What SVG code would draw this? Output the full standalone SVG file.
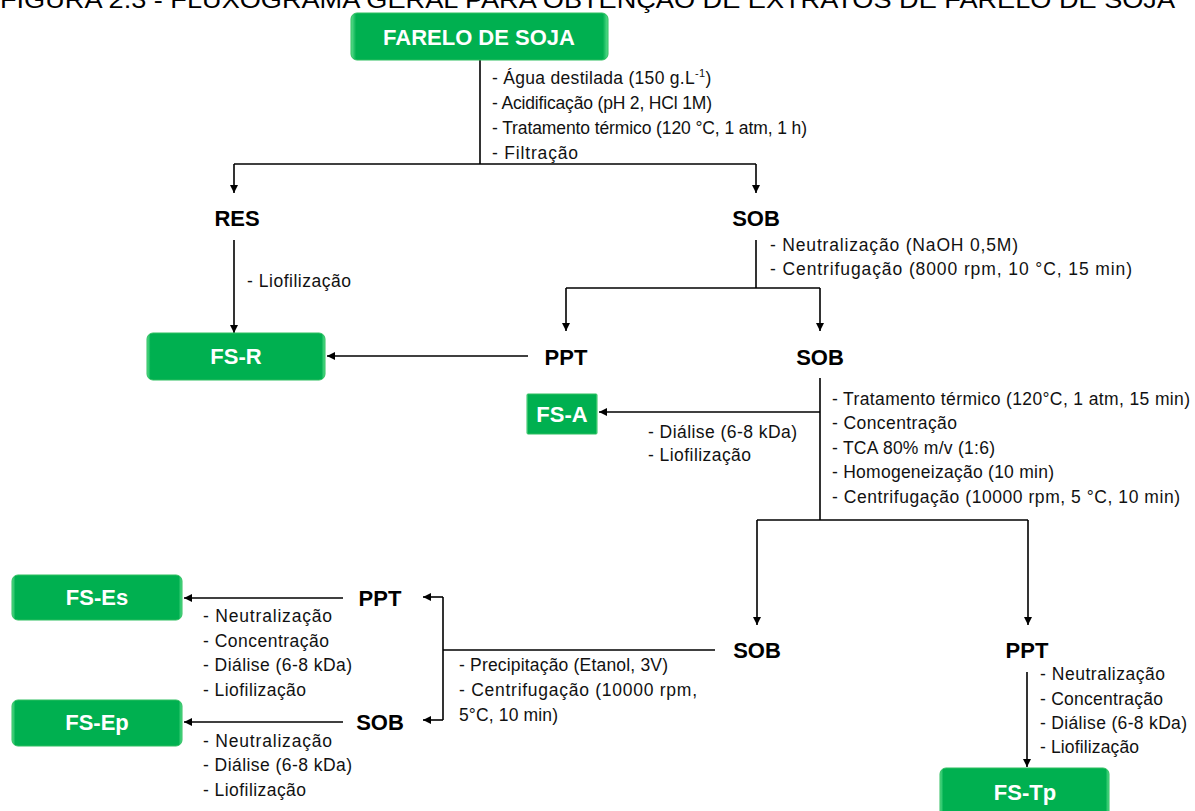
<svg xmlns="http://www.w3.org/2000/svg" width="1195" height="811" viewBox="0 0 1195 811">
<style>
  .t{font-family:"Liberation Sans",Arial,sans-serif;font-size:17.5px;fill:#111}
  .lbl{font-family:"Liberation Sans",Arial,sans-serif;font-size:22px;font-weight:bold;fill:#000;text-anchor:middle}
  .bt{font-family:"Liberation Sans",Arial,sans-serif;font-size:22px;font-weight:bold;fill:#fff;text-anchor:middle}
  .box{fill:url(#g);stroke:#2fbf60;stroke-width:1}
  .ln{fill:none;stroke:#000;stroke-width:1.6}
  .title{font-family:"Liberation Sans",Arial,sans-serif;font-size:24px;fill:#000}
</style>
<defs>
  <linearGradient id="g" x1="0" y1="0" x2="1" y2="0">
    <stop offset="0" stop-color="#5fe08f"/>
    <stop offset="0.02" stop-color="#00b050"/>
    <stop offset="0.98" stop-color="#00b050"/>
    <stop offset="1" stop-color="#5fe08f"/>
  </linearGradient>
  <marker id="a" viewBox="0 0 10 10" refX="10" refY="5" markerWidth="8" markerHeight="8" markerUnits="userSpaceOnUse" orient="auto">
    <path d="M0,0 L10,5 L0,10 z" fill="#000"/>
  </marker>
</defs>
<rect width="1195" height="811" fill="#fff"/>
<text class="title" x="0" y="8" textLength="1175" lengthAdjust="spacingAndGlyphs">FIGURA 2.3 - FLUXOGRAMA GERAL PARA OBTENÇÃO DE EXTRATOS DE FARELO DE SOJA</text>

<g id="connectors">
  <path class="ln" d="M480,60 V164"/>
  <path class="ln" d="M234,164 H756"/>
  <path class="ln" d="M234,164 V193" marker-end="url(#a)"/>
  <path class="ln" d="M756,164 V193" marker-end="url(#a)"/>
  <path class="ln" d="M234,240 V333" marker-end="url(#a)"/>
  <path class="ln" d="M756,240 V288"/>
  <path class="ln" d="M566,288 H820"/>
  <path class="ln" d="M566,288 V331" marker-end="url(#a)"/>
  <path class="ln" d="M820,288 V331" marker-end="url(#a)"/>
  <path class="ln" d="M528,356 H327" marker-end="url(#a)"/>
  <path class="ln" d="M820,378 V520"/>
  <path class="ln" d="M820,412 H599" marker-end="url(#a)"/>
  <path class="ln" d="M757,520 H1028"/>
  <path class="ln" d="M757,520 V625" marker-end="url(#a)"/>
  <path class="ln" d="M1028,520 V625" marker-end="url(#a)"/>
  <path class="ln" d="M715,650 H443"/>
  <path class="ln" d="M443,597 V720"/>
  <path class="ln" d="M443,597 H423" marker-end="url(#a)"/>
  <path class="ln" d="M443,720 H423" marker-end="url(#a)"/>
  <path class="ln" d="M343,598 H184" marker-end="url(#a)"/>
  <path class="ln" d="M343,722 H184" marker-end="url(#a)"/>
  <path class="ln" d="M1027,672 V767" marker-end="url(#a)"/>
</g>

<g id="n-farelo">
  <rect class="box" x="351" y="13" width="257" height="47" rx="6"/>
  <text class="bt" x="479" y="45" font-size="24">FARELO DE SOJA</text>
</g>
<g id="t-farelo">
  <text class="t" x="492" y="84" letter-spacing="0.3">- Água destilada (150 g.L<tspan font-size="11" dy="-7">-1</tspan><tspan dy="7">)</tspan></text>
  <text class="t" x="492" y="109" textLength="220">- Acidificação (pH 2, HCl 1M)</text>
  <text class="t" x="492" y="134" textLength="315">- Tratamento térmico (120 °C, 1 atm, 1 h)</text>
  <text class="t" x="492" y="159" textLength="86">- Filtração</text>
</g>
<g id="n-res"><text class="lbl" x="237" y="226">RES</text></g>
<g id="n-sob1"><text class="lbl" x="756" y="226">SOB</text></g>
<g id="t-res"><text class="t" x="247" y="287" textLength="104">- Liofilização</text></g>
<g id="t-sob1">
  <text class="t" x="770" y="251" textLength="248">- Neutralização (NaOH 0,5M)</text>
  <text class="t" x="770" y="275" textLength="362">- Centrifugação (8000 rpm, 10 °C, 15 min)</text>
</g>
<g id="n-fsr">
  <rect class="box" x="147" y="333" width="178" height="47" rx="6"/>
  <text class="bt" x="236" y="364">FS-R</text>
</g>
<g id="n-ppt1"><text class="lbl" x="566" y="365">PPT</text></g>
<g id="n-sob2"><text class="lbl" x="820" y="365">SOB</text></g>
<g id="n-fsa">
  <rect class="box" x="527" y="394" width="70" height="40" rx="1"/>
  <text class="bt" x="562" y="422">FS-A</text>
</g>
<g id="t-fsa">
  <text class="t" x="648" y="438" textLength="149">- Diálise (6-8 kDa)</text>
  <text class="t" x="648" y="461" textLength="103">- Liofilização</text>
</g>
<g id="t-sob2">
  <text class="t" x="832" y="405" textLength="358">- Tratamento térmico (120°C, 1 atm, 15 min)</text>
  <text class="t" x="832" y="429" textLength="125">- Concentração</text>
  <text class="t" x="832" y="454" textLength="163">- TCA 80% m/v (1:6)</text>
  <text class="t" x="832" y="478" textLength="222">- Homogeneização (10 min)</text>
  <text class="t" x="832" y="503" textLength="348">- Centrifugação (10000 rpm, 5 °C, 10 min)</text>
</g>
<g id="n-sob3"><text class="lbl" x="757" y="658">SOB</text></g>
<g id="n-ppt3"><text class="lbl" x="1027" y="658">PPT</text></g>
<g id="t-sob3">
  <text class="t" x="459" y="671" textLength="209">- Precipitação (Etanol, 3V)</text>
  <text class="t" x="459" y="696" textLength="238">- Centrifugação (10000 rpm,</text>
  <text class="t" x="459" y="721" textLength="99">5°C, 10 min)</text>
</g>
<g id="n-ppt4"><text class="lbl" x="380" y="606">PPT</text></g>
<g id="n-sob4"><text class="lbl" x="380" y="730">SOB</text></g>
<g id="n-fses">
  <rect class="box" x="12" y="575" width="170" height="45" rx="6"/>
  <text class="bt" x="97" y="605">FS-Es</text>
</g>
<g id="t-fses">
  <text class="t" x="203" y="622" textLength="129">- Neutralização</text>
  <text class="t" x="203" y="647" textLength="126">- Concentração</text>
  <text class="t" x="203" y="671" textLength="149">- Diálise (6-8 kDa)</text>
  <text class="t" x="203" y="696" textLength="103">- Liofilização</text>
</g>
<g id="n-fsep">
  <rect class="box" x="12" y="700" width="170" height="46" rx="6"/>
  <text class="bt" x="97" y="730">FS-Ep</text>
</g>
<g id="t-fsep">
  <text class="t" x="203" y="747" textLength="129">- Neutralização</text>
  <text class="t" x="203" y="771" textLength="149">- Diálise (6-8 kDa)</text>
  <text class="t" x="203" y="796" textLength="103">- Liofilização</text>
</g>
<g id="t-ppt3">
  <text class="t" x="1040" y="680" textLength="125">- Neutralização</text>
  <text class="t" x="1040" y="705" textLength="123">- Concentração</text>
  <text class="t" x="1040" y="729" textLength="147">- Diálise (6-8 kDa)</text>
  <text class="t" x="1040" y="753" textLength="99">- Liofilização</text>
</g>
<g id="n-fstp">
  <rect class="box" x="940" y="768" width="169" height="55" rx="6"/>
  <text class="bt" x="1025" y="800">FS-Tp</text>
</g>
</svg>
